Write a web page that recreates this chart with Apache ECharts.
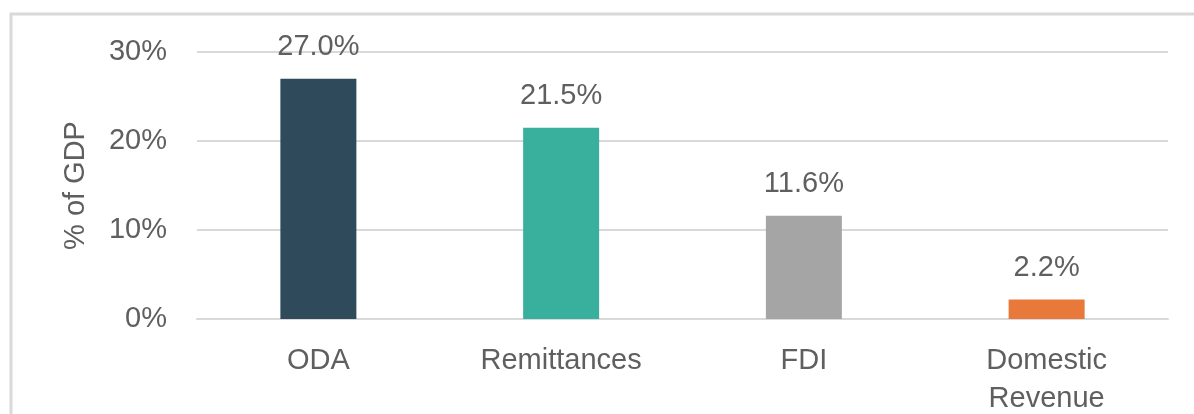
<!DOCTYPE html>
<html>
<head>
<meta charset="utf-8">
<script src="https://cdn.jsdelivr.net/npm/echarts@6/dist/echarts.min.js"></script>
<style>
  html, body { margin: 0; padding: 0; background: #fff; }
  #chart { width: 1194px; height: 414px; }
</style>
</head>
<body>
<div id="chart"></div>
<script>
  // data
  var categories = ['ODA', 'Remittances', 'FDI', 'Domestic\nRevenue'];
  var values = [27.0, 21.5, 11.6, 2.2];
  var barColors = ['#2e4a5b', '#38b09d', '#a5a5a5', '#e8793a'];
  var yTicks = [0, 10, 20, 30];

  var textColor = '#5f5f5f';
  var lineColor = '#d9d9d9';
  var font = 'Liberation Sans';
  var fontSize = 29;

  var myChart = echarts.init(document.getElementById('chart'));
  var options = {
    animation: false,
    graphic: [{
      type: 'rect',
      shape: { x: 11, y: 14, width: 1200, height: 420 },
      style: { fill: 'none', stroke: lineColor, lineWidth: 3 },
      silent: true
    }],
    grid: {
      left: 197,
      right: 26,
      top: 52,
      bottom: 95,
      outerBoundsMode: 'none'
    },
    xAxis: {
      type: 'category',
      data: categories,
      axisTick: { show: false },
      axisLine: { lineStyle: { color: lineColor, width: 2 } },
      axisLabel: {
        color: textColor,
        fontFamily: font,
        fontSize: fontSize,
        lineHeight: 38,
        margin: 23
      }
    },
    yAxis: {
      type: 'value',
      min: yTicks[0],
      max: yTicks[yTicks.length - 1],
      interval: 10,
      name: '% of GDP',
      nameLocation: 'middle',
      nameRotate: 90,
      nameGap: 107,
      nameTextStyle: { color: textColor, fontFamily: font, fontSize: fontSize },
      axisLine: { show: false },
      axisTick: { show: false },
      axisLabel: {
        color: textColor,
        fontFamily: font,
        fontSize: fontSize,
        margin: 30,
        formatter: function (v) { return v + '%'; }
      },
      splitLine: { lineStyle: { color: lineColor, width: 2 } }
    },
    series: [{
      type: 'bar',
      barWidth: 76,
      data: values.map(function (v, i) {
        return { value: v, itemStyle: { color: barColors[i] } };
      }),
      label: {
        show: true,
        position: 'top',
        distance: 17,
        color: textColor,
        fontFamily: font,
        fontSize: fontSize,
        formatter: function (p) { return p.value.toFixed(1) + '%'; }
      }
    }]
  };
  myChart.setOption(options);
  window.addEventListener('resize', myChart.resize);
</script>
</body>
</html>
